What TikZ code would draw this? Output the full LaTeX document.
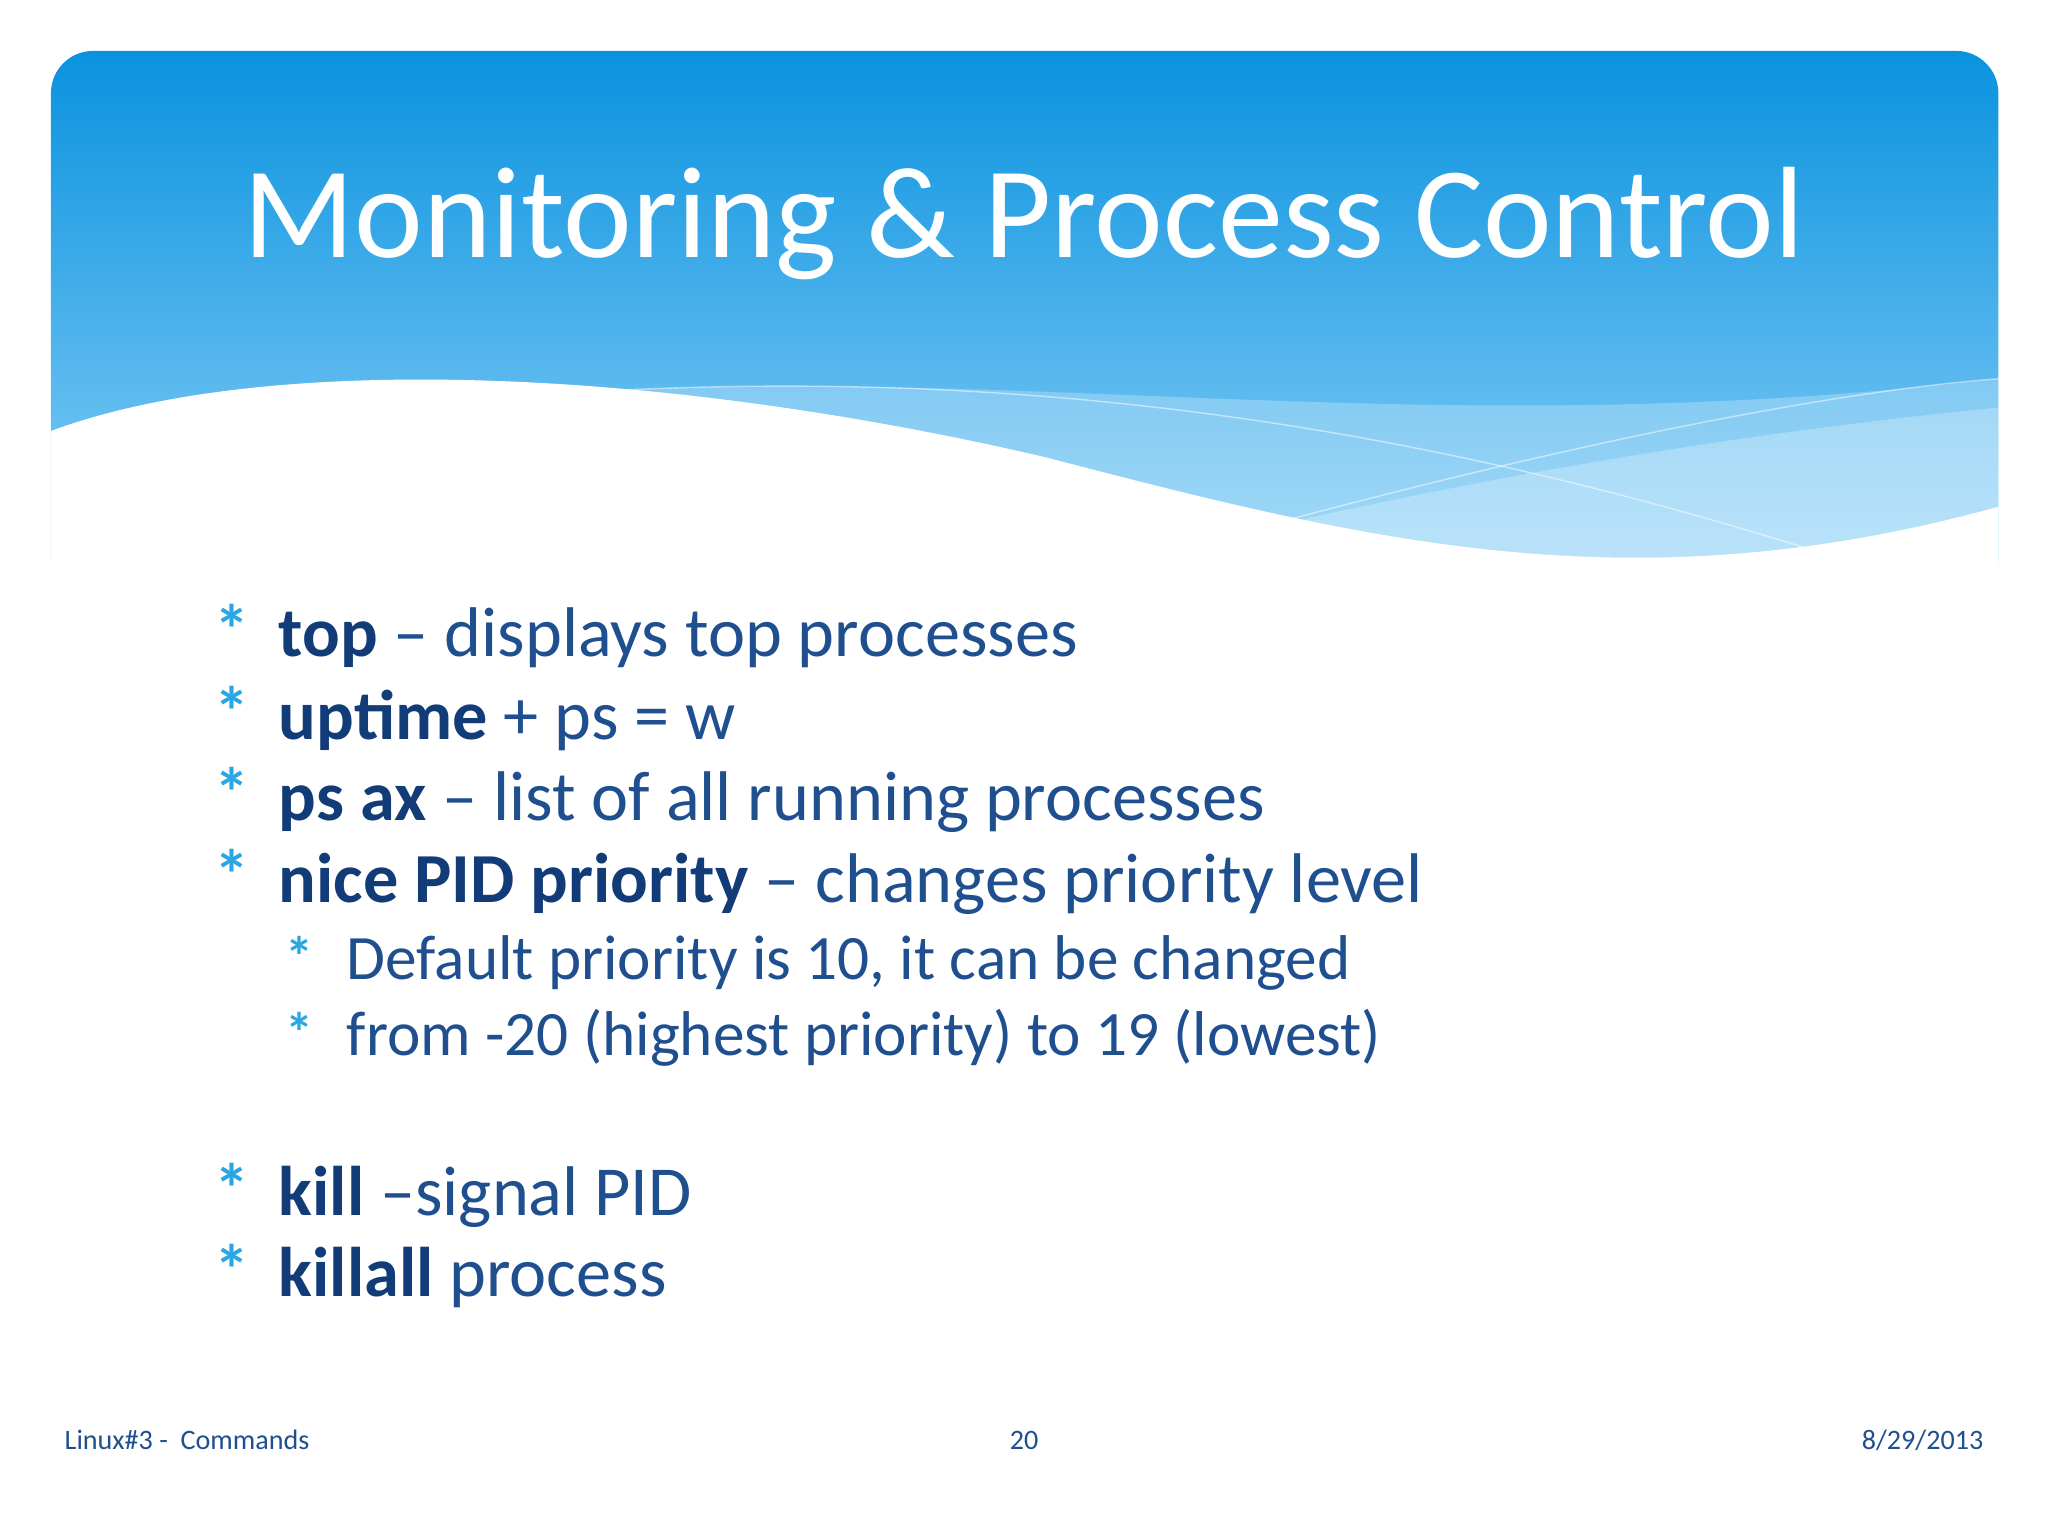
\documentclass[tikz,border=0pt]{standalone}
\usepackage{fontspec}
\setmainfont{Carlito}
\definecolor{hdtop}{HTML}{0A92DF}
\definecolor{hdbot}{HTML}{8ED2F8}
\definecolor{txt}{HTML}{1F4F8F}
\definecolor{bld}{HTML}{123C78}
\definecolor{bul}{HTML}{2AA6E2}
\tikzset{
 item/.style={anchor=base west,inner sep=0,font=\fontsize{20}{24}\selectfont,text=txt},
 sub/.style={anchor=base west,inner sep=0,font=\fontsize{18}{22}\selectfont,text=txt},
 bull/.style={anchor=base,inner sep=0,font=\fontsize{20}{24}\selectfont\bfseries,text=bul},
 foot/.style={anchor=base,inner sep=0,font=\fontsize{8}{10}\selectfont,text=txt}
}
\begin{document}
\begin{tikzpicture}[x=0.01306cm,y=-0.01306cm]
\useasboundingbox (0,0) rectangle (1568,1176);
\fill[white] (0,0) rectangle (1568,1176);
\shade[top color=hdtop,bottom color=hdbot,rounded corners=12pt]
 (39,460) -- (39,39) -- (1530,39) -- (1530,460) -- cycle;
% light wave bands
\fill[white,opacity=0.25] (450,300) .. controls (800,280) and (1100,340) .. (1530,290) -- (1530,460) -- (450,460) -- cycle;
\fill[white,opacity=0.25] (900,420) .. controls (1150,360) and (1350,330) .. (1530,312) -- (1530,460) -- (900,460) -- cycle;
\draw[white,opacity=0.5] (450,300) .. controls (800,280) and (1100,330) .. (1400,425);
\draw[white,opacity=0.5] (960,405) .. controls (1200,340) and (1400,300) .. (1530,290);
% white area
\fill[white] (39,330) .. controls (200,270) and (500,280) .. (800,350)
 .. controls (1050,415) and (1250,465) .. (1530,388) -- (1530,465) -- (39,465) -- cycle;
\node[anchor=base,inner sep=0,text=white,font=\fontsize{37}{44}\selectfont] (title) at (784,197) {Monitoring \& Process Control};
\foreach \y/\n in {489/a,552/b,614/c,677/d,917/e,979/f}{\node[bull] (b\n) at (178,\y+12) {*};}
\node[item] (t1) at (213,503) {\textbf{\color{bld}top} – displays top processes};
\node[item] (t2) at (213,566) {\textbf{\color{bld}uptime} + ps = w};
\node[item] (t3) at (213,628) {\textbf{\color{bld}ps ax} – list of all running processes};
\node[item] (t4) at (213,691) {\textbf{\color{bld}nice PID priority} – changes priority level};
\node[bull,font=\fontsize{16}{20}\selectfont\bfseries] (bs1) at (229,748) {*};
\node[bull,font=\fontsize{16}{20}\selectfont\bfseries] (bs2) at (229,806) {*};
\node[sub] (s1) at (265,750) {Default priority is 10, it can be changed};
\node[sub] (s2) at (265,808) {from -20 (highest priority) to 19 (lowest)};
\node[item] (t5) at (213,931) {\textbf{\color{bld}kill} –signal PID};
\node[item] (t6) at (213,993) {\textbf{\color{bld}killall} process};
\node[foot,anchor=base west] (f1) at (49,1110) {Linux\#3 -\ \ Commands};
\node[foot] (f2) at (784,1110) {20};
\node[foot,anchor=base east] (f3) at (1519,1110) {8/29/2013};
\end{tikzpicture}
\end{document}
